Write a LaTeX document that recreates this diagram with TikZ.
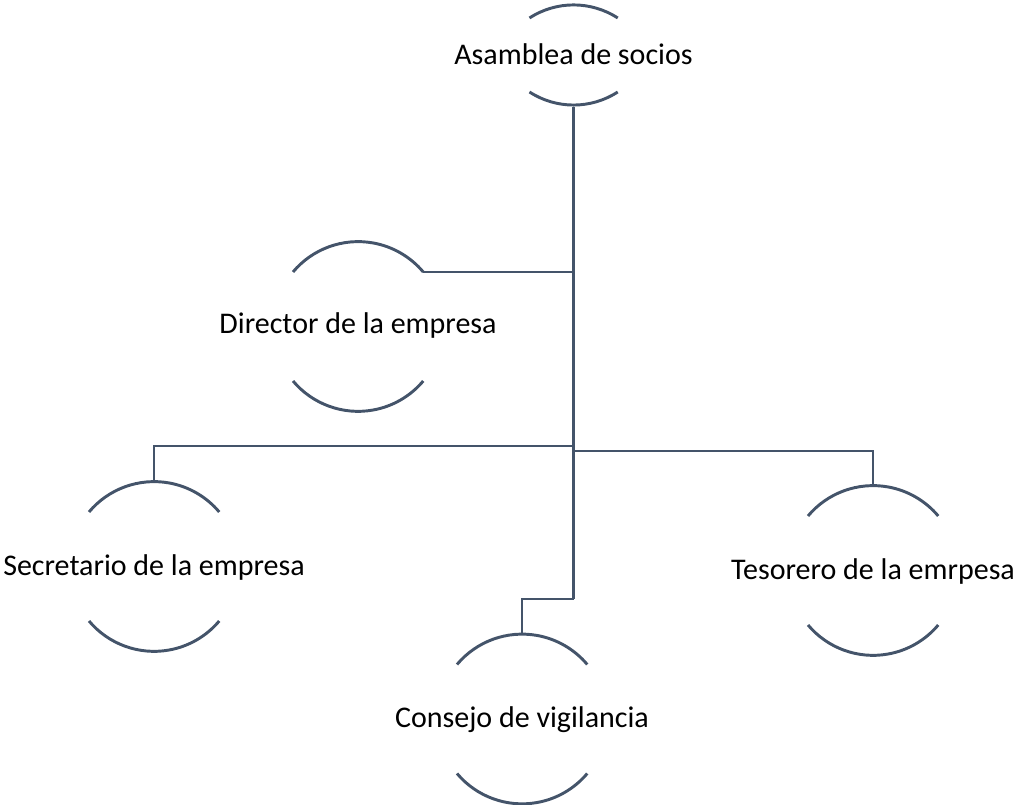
\documentclass[tikz,border=0pt]{standalone}
\usepackage{fontspec}
\setmainfont{Carlito}
\definecolor{slate}{HTML}{44546A}
\begin{document}
\begin{tikzpicture}[x=0.75pt,y=0.75pt,
  conn/.style={draw=slate,line width=2.2pt},
  arcline/.style={draw=slate,line width=2.2pt},
  lbl/.style={font=\fontsize{22.5}{27}\selectfont,anchor=base,inner sep=0pt,text=black}]
\useasboundingbox (0,0) rectangle (1018,805);

% ---- labels ----
\node[lbl] (asm) at (573.5,740.5) {Asamblea de socios};
\node[lbl] (dir) at (358,471) {Director de la empresa};
\node[lbl] (sec) at (154,229) {Secretario de la empresa};
\node[lbl] (tes) at (873,225) {Tesorero de la emrpesa};
\node[lbl] (con) at (522,77) {Consejo de vigilancia};

% ---- arc pairs ----
% Asamblea (small)
\coordinate (asm-c) at (573.5,750);
\draw[arcline] ([shift={(-44,37)}]asm-c) arc[start angle=123,end angle=57,radius=81];
\draw[arcline] ([shift={(-44,-37)}]asm-c) arc[start angle=237,end angle=303,radius=81];
\coordinate (asm-bot) at (573.5,698);

% Director
\coordinate (dir-c) at (358,478.5);
\draw[arcline] ([shift={(-65,54.5)}]dir-c) arc[start angle=140,end angle=40,radius=85];
\draw[arcline] ([shift={(-65,-54.5)}]dir-c) arc[start angle=220,end angle=320,radius=85];
\coordinate (dir-tr) at ([shift={(65,54.5)}]dir-c);

% Secretario
\coordinate (sec-c) at (154,238.5);
\draw[arcline] ([shift={(-65,54.5)}]sec-c) arc[start angle=140,end angle=40,radius=85];
\draw[arcline] ([shift={(-65,-54.5)}]sec-c) arc[start angle=220,end angle=320,radius=85];
\coordinate (sec-top) at ([shift={(0,85)}]sec-c);

% Tesorero
\coordinate (tes-c) at (873,234.5);
\draw[arcline] ([shift={(-65,54.5)}]tes-c) arc[start angle=140,end angle=40,radius=85];
\draw[arcline] ([shift={(-65,-54.5)}]tes-c) arc[start angle=220,end angle=320,radius=85];
\coordinate (tes-top) at ([shift={(0,85)}]tes-c);

% Consejo
\coordinate (con-c) at (522,86);
\draw[arcline] ([shift={(-65,54.5)}]con-c) arc[start angle=140,end angle=40,radius=85];
\draw[arcline] ([shift={(-65,-54.5)}]con-c) arc[start angle=220,end angle=320,radius=85];
\coordinate (con-top) at ([shift={(0,85)}]con-c);

% ---- connectors ----
\coordinate (trunk-end) at (573.5,206);
\coordinate (jl) at (573.5,359);
\coordinate (jr) at (573.5,354);
\draw[conn] (asm-bot) -- (trunk-end);
\draw[conn] (dir-tr) -- (dir-tr -| asm-bot);
\draw[conn] (jl) -| (sec-top);
\draw[conn] (jr) -| (tes-top);
\draw[conn] (trunk-end) -| (con-top);
\end{tikzpicture}
\end{document}
